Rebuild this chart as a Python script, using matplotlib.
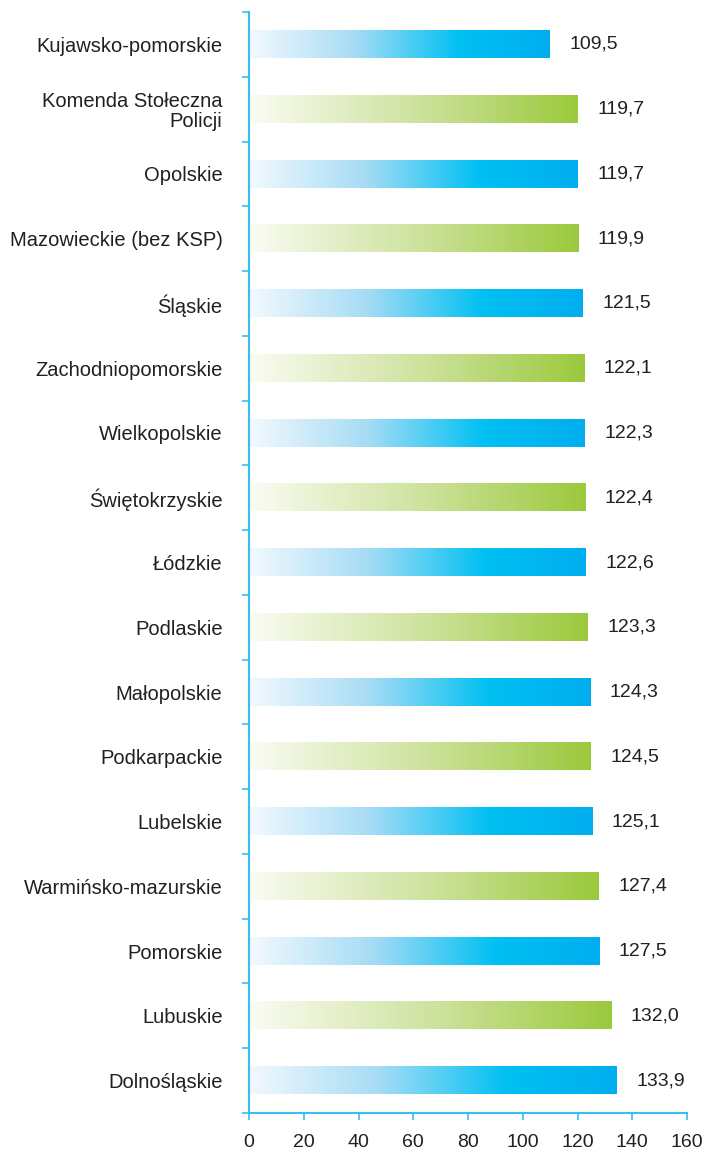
import matplotlib
matplotlib.use("Agg")
import matplotlib.pyplot as plt
import numpy as np
from matplotlib.colors import LinearSegmentedColormap

regions = ["Kujawsko-pomorskie", "Komenda Stołeczna\nPolicji", "Opolskie",
           "Mazowieckie (bez KSP)", "Śląskie", "Zachodniopomorskie", "Wielkopolskie",
           "Świętokrzyskie", "Łódzkie", "Podlaskie", "Małopolskie", "Podkarpackie",
           "Lubelskie", "Warmińsko-mazurskie", "Pomorskie", "Lubuskie", "Dolnośląskie"]
values = [109.5, 119.7, 119.7, 119.9, 121.5, 122.1, 122.3, 122.4, 122.6, 123.3,
          124.3, 124.5, 125.1, 127.4, 127.5, 132.0, 133.9]
value_labels = ["109,5", "119,7", "119,7", "119,9", "121,5", "122,1", "122,3", "122,4",
                "122,6", "123,3", "124,3", "124,5", "125,1", "127,4", "127,5", "132,0", "133,9"]
xticks = [0, 20, 40, 60, 80, 100, 120, 140, 160]

plt.rcParams['font.family'] = ['Liberation Sans', 'DejaVu Sans']

blue = LinearSegmentedColormap.from_list("b", [(0, "#f2f9fe"), (0.35, "#a6dcf5"),
                                               (0.7, "#00c0f2"), (1.0, "#00aeef")])
green = LinearSegmentedColormap.from_list("g", [(0, "#fafcf3"), (0.5, "#cfe3a0"),
                                                (1.0, "#9bc93c")])
axis_color = "#39bfee"
text_color = "#231f20"

fig = plt.figure(figsize=(7.04, 11.51), dpi=100)
ax = fig.add_axes([249/704, 1 - 1113/1151, (687-249)/704, (1113-12)/1151])

n = len(regions)
y = np.arange(n)
bars = ax.barh(y, values, height=0.42, color="none", edgecolor="none", left=0.5)
grad = np.linspace(0, 1, 256).reshape(1, -1)
for i, b in enumerate(bars):
    x0 = b.get_x(); w = b.get_width(); y0 = b.get_y(); h = b.get_height()
    cmap = blue if i % 2 == 0 else green
    ax.imshow(grad, cmap=cmap, aspect="auto", extent=(x0, x0 + w, y0 + h, y0),
              interpolation="bicubic", zorder=2)
    ax.text(x0 + w + 7, b.get_y() + h / 2, value_labels[i], va="center", ha="left",
            fontsize=14, color=text_color)

ax.set_xlim(0, 160)
ax.set_ylim(n - 0.5, -0.5)
ax.set_xticks(xticks)
ax.set_xticklabels([str(t) for t in xticks], fontsize=14, color=text_color)
ax.set_yticks(y)
ax.set_yticklabels(regions, fontsize=14.5, color=text_color)
ax.tick_params(axis="y", length=0, pad=19)
ax.set_yticks(np.arange(-0.5, n, 1.0), minor=True)
ax.tick_params(axis="y", which="minor", length=5, color=axis_color, width=1.2, direction="out")
ax.tick_params(axis="x", length=5, color=axis_color, width=1.2, direction="out", pad=10)
for lab in ax.get_yticklabels():
    lab.set_multialignment("right")
    lab.set_linespacing(1.05)
for s in ["top", "right"]:
    ax.spines[s].set_visible(False)
for s in ["left", "bottom"]:
    ax.spines[s].set_color(axis_color)
    ax.spines[s].set_linewidth(1.5)

fig.savefig("out.png", dpi=100)
